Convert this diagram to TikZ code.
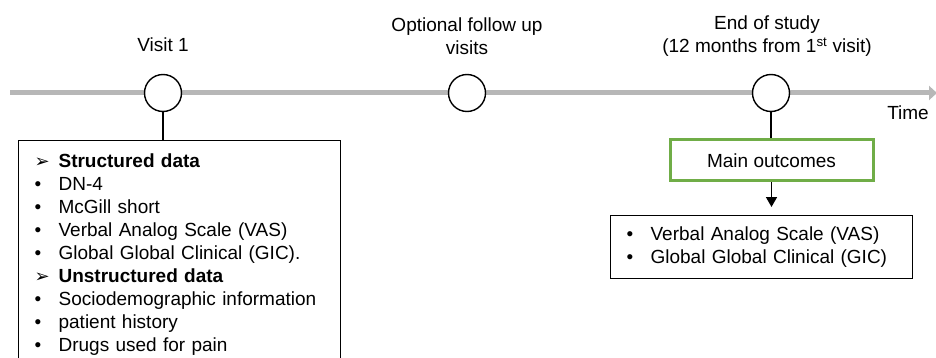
\documentclass[tikz,border=0pt]{standalone}
\usepackage{fontspec}
\setmainfont{Liberation Sans}
\newfontfamily\dingfont{DejaVu Sans}
\usetikzlibrary{positioning, arrows.meta}

\definecolor{linegray}{RGB}{183,183,183}
\definecolor{outgreen}{RGB}{112,173,71}

\newcommand{\blt}{\makebox[24pt][l]{\textbullet}}
\newcommand{\hdr}[1]{\makebox[24pt][l]{\dingfont\fontsize{18}{23}\selectfont ➢}\textbf{#1}}

\begin{document}
\begin{tikzpicture}[x=1pt, y=-1pt,
    every node/.style={font=\fontsize{19}{23}\selectfont},
    visit/.style={circle, draw, line width=1.4pt, fill=white, minimum size=37pt, inner sep=0pt},
    timeline/.style={line width=5pt, draw=linegray, -{Triangle[length=8pt,width=14pt]}},
    conn/.style={line width=1.6pt},
    listbox/.style={draw, line width=1.2pt, align=left, anchor=north west, inner xsep=16pt},
    outbox/.style={draw=outgreen, line width=3pt, minimum width=203pt, minimum height=41pt}]
  \path[use as bounding box, clip] (0,0) rectangle (936,358);

  % Time axis
  \coordinate (tstart) at (10,93);
  \coordinate (tend) at (937,93);
  \draw[timeline] (tstart) -- (tend);
  \node (time) at (908,113) {Time};

  % Visits
  \foreach \n/\x in {v1/163, fu/467, eos/771}
    \node[visit] (\n) at (\x,93) {};
  \node (v1lbl) at (163,45) {Visit 1};
  \node[align=center] (fulbl) at (467,36) {Optional follow up\\visits};
  \node[align=center] (eoslbl) at (767,36) {End of study\\(12 months from 1\textsuperscript{st} visit)};

  % Boxes
  \node[listbox, text width=290pt, inner ysep=13pt] (visitdata) at (18,140) {%
    \hdr{Structured data}\\
    \blt DN-4\\
    \blt McGill short\\
    \blt Verbal Analog Scale (VAS)\\
    \blt Global Global Clinical (GIC).\\
    \hdr{Unstructured data}\\
    \blt Sociodemographic information\\
    \blt patient history\\
    \blt Drugs used for pain\\[30pt]};
  \node[outbox] (main) at (771.5,160.5) {Main outcomes};
  \node[listbox, text width=270pt, inner ysep=9pt, minimum height=63pt] (outcomes) at (610,215) {%
    \blt Verbal Analog Scale (VAS)\\
    \blt Global Global Clinical (GIC)};

  % Connectors
  \draw[conn] (v1) -- (v1 |- visitdata.north);
  \draw[conn] (eos) -- (eos |- main.north);
  \draw[conn, -{Triangle[length=10pt,width=11pt]}, shorten >=8pt] (main.south) -- (main.south |- outcomes.north);
\end{tikzpicture}
\end{document}
